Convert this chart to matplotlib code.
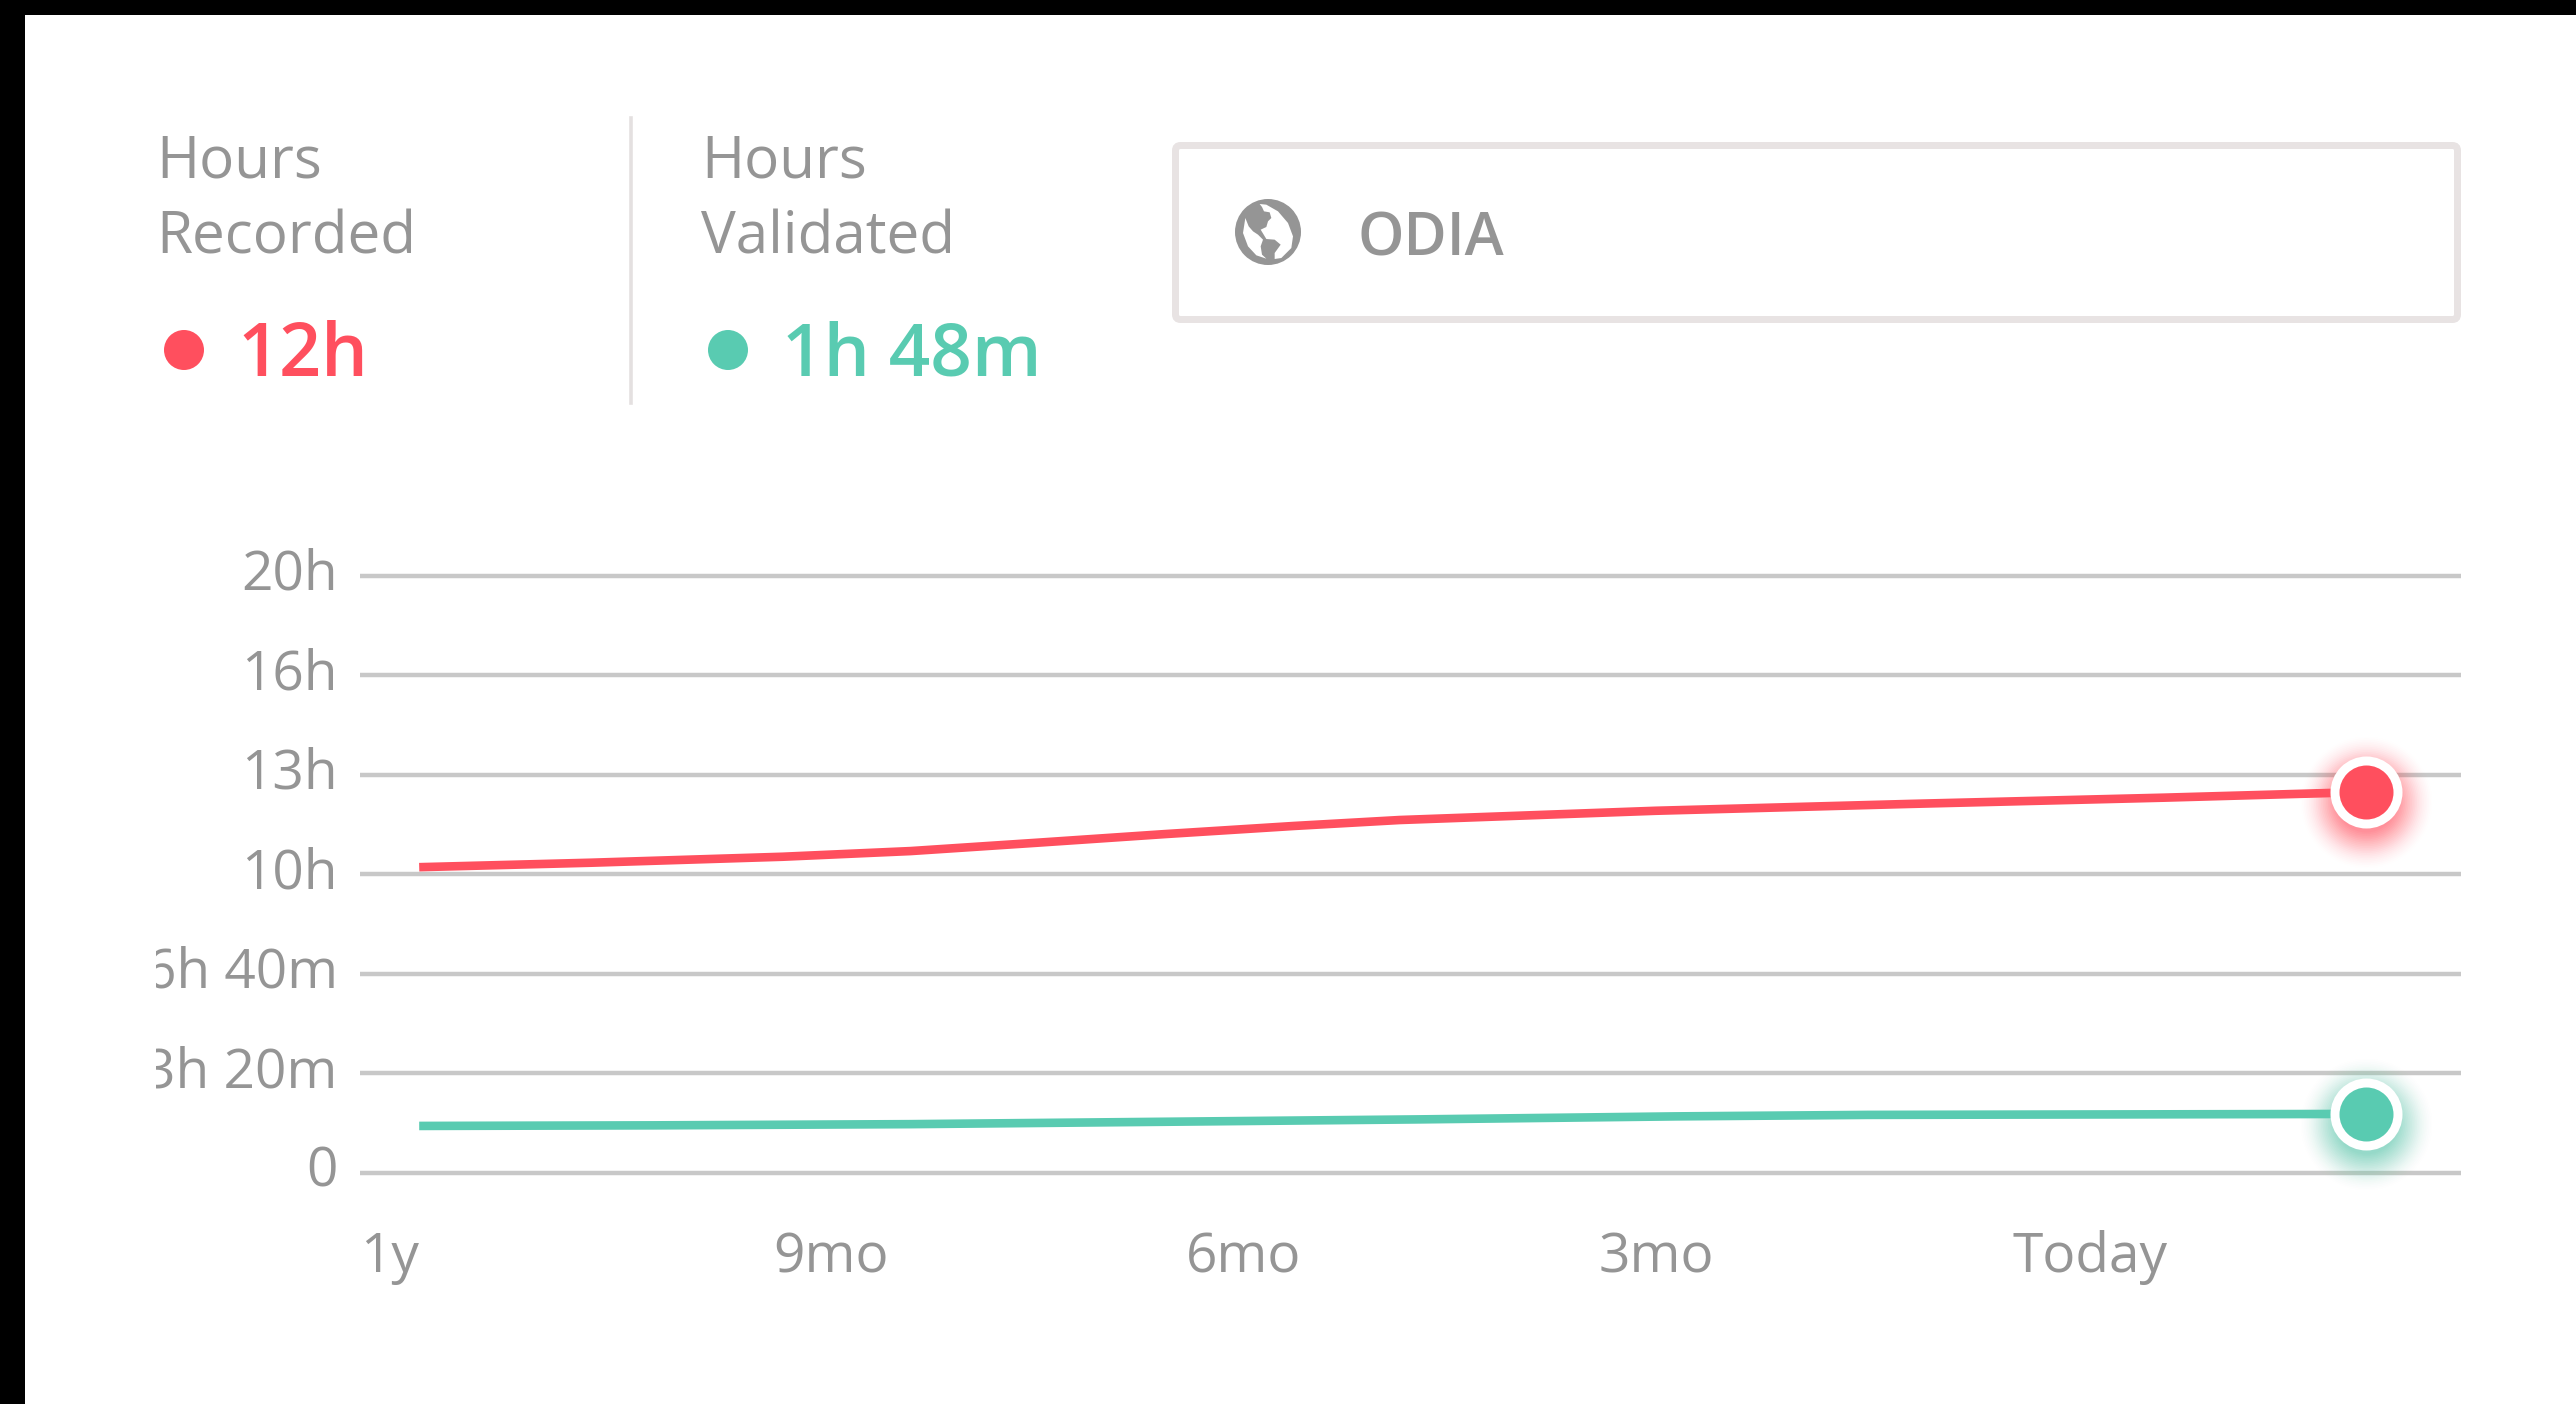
import numpy as np
import matplotlib
matplotlib.use("Agg")
import matplotlib.pyplot as plt
from matplotlib.patches import Rectangle, Circle, FancyBboxPatch, Polygon
from matplotlib.lines import Line2D
from matplotlib.transforms import Affine2D, ScaledTranslation

W, H = 2576, 1404
GREY = "#959595"
RED = "#ff4f5e"
GREEN = "#59cbb1"

y_ticks = [0, 3.333, 6.667, 10, 13.333, 16.667, 20]
y_labels = ["0", "3h 20m", "6h 40m", "10h", "13h", "16h", "20h"]
x_ticks = [0, 3, 6, 9, 12]
x_labels = ["1y", "9mo", "6mo", "3mo", "Today"]

months_recorded = [0.43, 1.68, 3.07, 4.00, 4.92, 5.85, 6.78, 7.55, 9.41, 11.26, 13.11, 14.57]
recorded = [10.23, 10.38, 10.58, 10.77, 11.05, 11.34, 11.61, 11.81, 12.12, 12.35, 12.56, 12.75]
months_validated = [0.43, 2.14, 4.00, 5.85, 7.70, 9.55, 10.95, 14.28, 14.57]
validated = [1.56, 1.58, 1.62, 1.70, 1.78, 1.88, 1.93, 1.96, 1.97]
recorded_label = "12h"
validated_label = "1h 48m"

plt.rcParams["font.family"] = ["Open Sans", "DejaVu Sans"]
fig = plt.figure(figsize=(W / 100, H / 100), dpi=100, facecolor="black")


def px_axes(l, t, r, b, **kw):
    return fig.add_axes([l / W, 1 - b / H, (r - l) / W, (b - t) / H], **kw)


bg = px_axes(0, 0, W, H, zorder=0)
bg.set_xlim(0, W)
bg.set_ylim(H, 0)
bg.axis("off")
bg.add_patch(Rectangle((25, 15), W - 25, H - 15, fc="white", ec="none"))

# header
for x, lines in [(156, ("Hours", "Recorded")), (701, ("Hours", "Validated"))]:
    bg.text(x, 178, lines[0], fontsize=42, color=GREY, va="baseline")
    bg.text(x, 253, lines[1], fontsize=42, color=GREY, va="baseline")
bg.add_line(Line2D([631, 631], [118, 403], color="#e4e0e0", lw=2.6))
bg.add_patch(Circle((184, 350), 20, fc=RED, ec="none"))
bg.add_patch(Circle((728, 350), 20, fc=GREEN, ec="none"))
bg.text(237, 376, recorded_label, fontsize=53, color=RED, weight=600, va="baseline")
bg.text(782, 376, validated_label, fontsize=52.5, color=GREEN, weight=600, va="baseline")
bg.add_patch(FancyBboxPatch((1175.5, 145.5), 1282, 174, boxstyle="round,pad=0,rounding_size=5",
                            fc="white", ec="#e8e3e3", lw=5))
bg.text(1358, 256, "ODIA", fontsize=42.5, color=GREY, weight=600, va="baseline")

# globe icon: dark disc with white oceans
gx, gy = 1268, 232
bg.add_patch(Circle((gx, gy), 33, fc=GREY, ec="none"))
ocean_left = [(62, 85), (72, 110), (85, 125), (100, 135), (115, 150), (108, 170), (112, 195), (125, 207),
              (95, 197), (70, 170), (55, 130)]
ocean_right = [(105, 43), (125, 45), (160, 65), (190, 100), (205, 140), (200, 175), (170, 205), (150, 208),
               (150, 190), (168, 165), (150, 150), (125, 148), (108, 120), (125, 112), (130, 95), (140, 85),
               (135, 68), (118, 65), (112, 52)]
for shape in (ocean_left, ocean_right):
    bg.add_patch(Polygon([(gx + (a - 130) / 3, gy + (b - 127) / 3) for a, b in shape], fc="white", ec="none"))

# chart
ax = px_axes(360, 575.6, 2461, 1172.5, zorder=1)
ax.patch.set_alpha(0)
months_per_px = 3 / 413
ax.set_xlim(0, (2461 - 360) * months_per_px)
ax.set_ylim(0, 20)
for s in ax.spines.values():
    s.set_visible(False)
ax.set_yticks(y_ticks, y_labels)
ax.set_xticks(x_ticks, x_labels)
ax.tick_params(axis="y", length=0, pad=16, labelsize=39.6, labelcolor=GREY)
ax.tick_params(axis="x", length=0, pad=41.5, labelsize=39.6, labelcolor=GREY)
for t in ax.get_xticklabels():
    t.set_ha("left")
clip = Rectangle((156, 0), 400, H, transform=None)
up = ScaledTranslation(0, 7 / 100, fig.dpi_scale_trans)
for t in ax.get_yticklabels():
    t.set_transform(t.get_transform() + up)
    t.set_clip_on(True)
    t.set_clip_path(clip)
ax.grid(axis="y", color="#c8c8c8", lw=3.2)
for gl in ax.get_ygridlines():
    gl.set_clip_on(False)
    gl.set_solid_capstyle("butt")
ax.set_axisbelow(True)

ax.plot(months_recorded, recorded, color=RED, lw=6.2, solid_capstyle="butt", zorder=3, clip_on=False)
ax.plot(months_validated, validated, color=GREEN, lw=6.2, solid_capstyle="butt", zorder=3, clip_on=False)

shift = Affine2D().translate(0, -10)
for xs, series, col in ((months_recorded, recorded, RED), (months_validated, validated, GREEN)):
    xe, ye = xs[-1], series[-1]
    for r, a in zip(np.linspace(66, 30, 22), np.linspace(0.004, 0.075, 22)):
        ax.scatter([xe], [ye], s=(2 * r * 0.72) ** 2, color=col, alpha=a, lw=0, zorder=4, clip_on=False,
                   transform=ax.transData + shift)
    ax.scatter([xe], [ye], s=(2 * 36 * 0.72) ** 2, color="white", lw=0, zorder=5, clip_on=False)
    ax.scatter([xe], [ye], s=(2 * 27 * 0.72) ** 2, color=col, lw=0, zorder=6, clip_on=False)

fig.savefig("out.png", dpi=100, facecolor="black")
